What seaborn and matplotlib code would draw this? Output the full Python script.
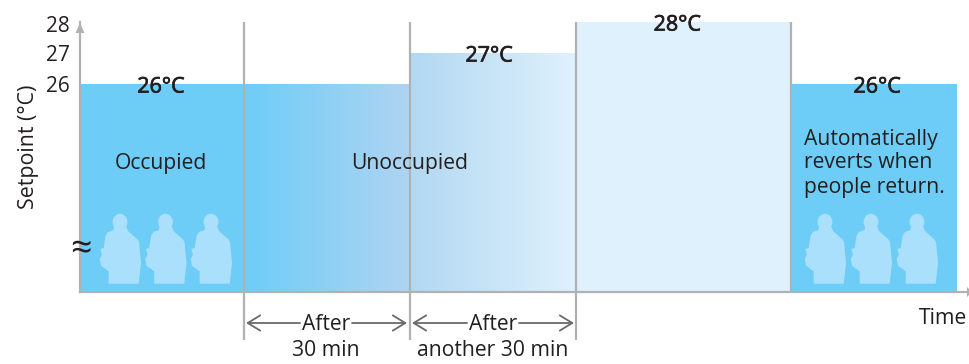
import numpy as np
import pandas as pd
import matplotlib
matplotlib.use('Agg')
import matplotlib.pyplot as plt
import matplotlib.patheffects as pe
import seaborn as sns
from matplotlib.colors import LinearSegmentedColormap
from matplotlib.patches import Ellipse, Polygon
from matplotlib.transforms import ScaledTranslation

# time axis in minutes, 0 = start of the first unoccupied stage
phases = ['occupied', 'wait1', 'wait2', 'setback', 'return']
edges = [-29.6, 0, 30, 60, 98.9, 128.9]
setpoints = [26, 26, 27, 28, 26]
phase_colors = ['#6DCDF7', '#6DCDF7', '#B2D8F2', '#DFF1FC', '#6DCDF7']
temp_labels = ['26°C', '27°C', '28°C', '26°C']
temp_times = [-15, 44.3, 78.3, 114.4]
temp_values = [26, 27, 28, 26]
y_ticks = [26, 27, 28]

TEXT = '#231F20'
AXIS = '#B0B1B3'
ARROW = '#6A6A6C'
PERSON = '#ABE0FC'

sns.set_theme(style='white')
plt.rcParams['font.family'] = ['Open Sans', 'DejaVu Sans']

df = pd.DataFrame({'phase': phases, 'start': edges[:-1], 'setpoint': setpoints})

fig = plt.figure(figsize=(9.7, 3.64), dpi=100)
ax = fig.add_axes([80 / 970, 1 - 292 / 364, 890 / 970, 270 / 364])

sns.histplot(data=df, x='start', weights='setpoint', bins=edges, hue='phase',
             palette=dict(zip(phases, phase_colors)), alpha=1, linewidth=0,
             legend=False, ax=ax)

# the two waiting stages fade towards the next colour
fades = [(1, '#6DCDF7', '#AFD4F1'), (2, '#B2D8F2', '#DFF1FC')]
for i, c0, c1 in fades:
    cmap = LinearSegmentedColormap.from_list('fade', [c0, c1])
    ax.imshow(np.linspace(0, 1, 256)[None, :], cmap=cmap, aspect='auto', zorder=2,
              extent=(edges[i], edges[i + 1], 19.29, setpoints[i] - 0.02))
ax.set_xlim(-29.6, 131.2)
ax.set_ylim(19.29, 28)

sns.despine(ax=ax, top=True, right=True)
for s in ['left', 'bottom']:
    ax.spines[s].set_color(AXIS)
    ax.spines[s].set_linewidth(1.6)
    ax.spines[s].set_zorder(4)

ax.set_xticks([])
ax.set_xlabel('')
ax.set_yticks(y_ticks, [str(v) for v in y_ticks], fontsize=15, color=TEXT)
ax.tick_params(axis='y', length=0, pad=7.5)
# the 28 sits a little lower than the top of the axis in the original
lab = ax.get_yticklabels()[-1]
lab.set_transform(lab.get_transform() + ScaledTranslation(0, -1.5 / 72, fig.dpi_scale_trans))
ax.set_ylabel('')

# stage dividers, they run below the axis down to the brackets
ax.vlines(edges[1:4], -0.178, 1, transform=ax.get_xaxis_transform(), color=AXIS,
          lw=1.6, clip_on=False, zorder=4)
ax.vlines(edges[4], 0, 1, transform=ax.get_xaxis_transform(), color=AXIS,
          lw=1.6, clip_on=False, zorder=4)

# no semibold face installed, so thicken the regular one a little
for t, lbl, v in zip(temp_times, temp_labels, temp_values):
    ax.annotate(lbl, (t, v), xytext=(0, -2.2), textcoords='offset points', ha='center',
                va='center', fontsize=15.5, color=TEXT, zorder=5, annotation_clip=False,
                path_effects=[pe.withStroke(linewidth=0.5, foreground=TEXT)])

# overlay in pixel coordinates for the annotation furniture
ov = fig.add_axes([0, 0, 1, 1], zorder=10)
ov.set_xlim(0, 970)
ov.set_ylim(364, 0)
ov.axis('off')

# axis arrow heads
ov.add_patch(Polygon([(80, 23), (75.5, 33), (84.5, 33)], color=AXIS, lw=0))
ov.add_patch(Polygon([(972, 292), (967, 287), (967, 297)], color=AXIS, lw=0))

# silhouette outline relative to the centre of the head
body = [(-6, 5), (-6.5, 8), (-12, 10), (-14.5, 14), (-16.3, 26), (-19.7, 27), (-18, 32.7), (-20.3, 37),
        (-19, 43.7), (-11.3, 49.3), (-11.3, 61.7), (18.7, 61.7), (21, 41), (19, 20), (17.7, 17.7),
        (8, 9), (6.5, 5)]
for cx in [120, 165.5, 211, 825, 871, 917]:
    ov.add_patch(Ellipse((cx, 222), 14.8, 16.5, color=PERSON, lw=0))
    ov.add_patch(Polygon([(cx + x, 222 + y) for x, y in body], closed=True, color=PERSON, lw=0))

ov.text(161, 163, 'Occupied', ha='center', va='center', fontsize=15.2, color=TEXT)
ov.text(410, 163, 'Unoccupied', ha='center', va='center', fontsize=15.2, color=TEXT)
ov.text(871, 139, 'Automatically', ha='center', va='center', fontsize=15.2, color=TEXT)
ov.text(868, 163, 'reverts when', ha='center', va='center', fontsize=15.2, color=TEXT)
ov.text(874, 187, 'people return.', ha='center', va='center', fontsize=15.2, color=TEXT)
ov.text(29, 147, 'Setpoint (°C)', ha='center', va='center', rotation=90, fontsize=15.4, color=TEXT)
ov.text(943, 319, 'Time', ha='center', va='center', fontsize=15.2, color=TEXT)
ov.text(326, 324, 'After', ha='center', va='center', fontsize=15.2, color=TEXT)
ov.text(326, 351, '30 min', ha='center', va='center', fontsize=15.2, color=TEXT)
ov.text(493, 324, 'After', ha='center', va='center', fontsize=15.2, color=TEXT)
ov.text(493, 351, 'another 30 min', ha='center', va='center', fontsize=15.2, color=TEXT)

# axis break mark
ov.text(81, 249, '≈', ha='center', va='center', fontsize=27, color=TEXT)

for x0, x1 in [(300, 246), (352, 407), (467, 412), (519, 574)]:
    ov.annotate('', xy=(x1, 323), xytext=(x0, 323),
                arrowprops=dict(arrowstyle='->,head_length=0.9,head_width=0.55', color=ARROW,
                                lw=1.3, shrinkA=0, shrinkB=0, mutation_scale=10))

plt.savefig('out.png', dpi=100)
